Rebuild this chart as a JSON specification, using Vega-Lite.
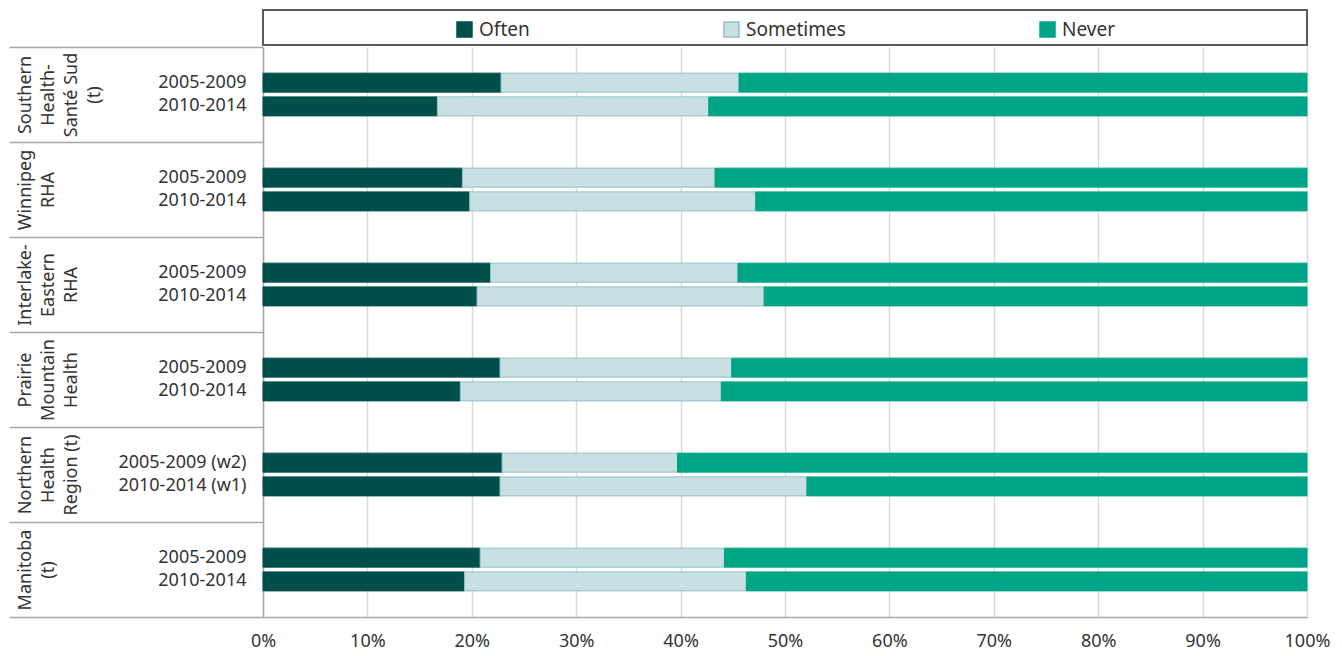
{
  "$schema": "https://vega.github.io/schema/vega-lite/v6.json",
  "padding": {"left": 8, "top": 9, "right": 10, "bottom": 0},
  "background": "white",
  "spacing": 0,
  "config": {
    "font": "Noto Sans",
    "view": {"stroke": null},
    "axis": {"labelColor": "#333333", "labelFont": "Noto Sans"},
    "legend": {
      "orient": "none",
      "legendX": 192,
      "legendY": 10,
      "direction": "horizontal",
      "title": null,
      "symbolType": "square",
      "symbolSize": 225,
      "symbolStrokeWidth": 1.5,
      "labelFontSize": 19,
      "labelOffset": 5,
      "labelColor": "#333333",
      "columnPadding": 191
    }
  },
  "datasets": {
    "regions": [
      {"region": "Southern\nHealth-\nSanté Sud\n(t)"},
      {"region": "Winnipeg\nRHA"},
      {"region": "Interlake-\nEastern\nRHA"},
      {"region": "Prairie\nMountain\nHealth"},
      {"region": "Northern\nHealth\nRegion (t)"},
      {"region": "Manitoba\n(t)"}
    ],
    "bars": [
      {"slot": "S|2005-2009", "response": "Often", "pct": 22.8},
      {"slot": "S|2005-2009", "response": "Sometimes", "pct": 22.8},
      {"slot": "S|2005-2009", "response": "Never", "pct": 54.4},
      {"slot": "S|2010-2014", "response": "Often", "pct": 16.7},
      {"slot": "S|2010-2014", "response": "Sometimes", "pct": 26.0},
      {"slot": "S|2010-2014", "response": "Never", "pct": 57.3},
      {"slot": "W|2005-2009", "response": "Often", "pct": 19.1},
      {"slot": "W|2005-2009", "response": "Sometimes", "pct": 24.2},
      {"slot": "W|2005-2009", "response": "Never", "pct": 56.7},
      {"slot": "W|2010-2014", "response": "Often", "pct": 19.8},
      {"slot": "W|2010-2014", "response": "Sometimes", "pct": 27.4},
      {"slot": "W|2010-2014", "response": "Never", "pct": 52.8},
      {"slot": "I|2005-2009", "response": "Often", "pct": 21.8},
      {"slot": "I|2005-2009", "response": "Sometimes", "pct": 23.7},
      {"slot": "I|2005-2009", "response": "Never", "pct": 54.5},
      {"slot": "I|2010-2014", "response": "Often", "pct": 20.5},
      {"slot": "I|2010-2014", "response": "Sometimes", "pct": 27.5},
      {"slot": "I|2010-2014", "response": "Never", "pct": 52.0},
      {"slot": "P|2005-2009", "response": "Often", "pct": 22.7},
      {"slot": "P|2005-2009", "response": "Sometimes", "pct": 22.2},
      {"slot": "P|2005-2009", "response": "Never", "pct": 55.1},
      {"slot": "P|2010-2014", "response": "Often", "pct": 18.9},
      {"slot": "P|2010-2014", "response": "Sometimes", "pct": 25.0},
      {"slot": "P|2010-2014", "response": "Never", "pct": 56.1},
      {"slot": "N|2005-2009 (w2)", "response": "Often", "pct": 22.9},
      {"slot": "N|2005-2009 (w2)", "response": "Sometimes", "pct": 16.8},
      {"slot": "N|2005-2009 (w2)", "response": "Never", "pct": 60.3},
      {"slot": "N|2010-2014 (w1)", "response": "Often", "pct": 22.7},
      {"slot": "N|2010-2014 (w1)", "response": "Sometimes", "pct": 29.4},
      {"slot": "N|2010-2014 (w1)", "response": "Never", "pct": 47.9},
      {"slot": "M|2005-2009", "response": "Often", "pct": 20.8},
      {"slot": "M|2005-2009", "response": "Sometimes", "pct": 23.4},
      {"slot": "M|2005-2009", "response": "Never", "pct": 55.8},
      {"slot": "M|2010-2014", "response": "Often", "pct": 19.3},
      {"slot": "M|2010-2014", "response": "Sometimes", "pct": 27.0},
      {"slot": "M|2010-2014", "response": "Never", "pct": 53.7}
    ]
  },
  "vconcat": [
    {
      "width": 1044,
      "height": 35,
      "view": {"stroke": "#595959", "strokeWidth": 2},
      "data": {"values": [{}]},
      "mark": {"type": "point", "opacity": 0},
      "encoding": {}
    },
    {
      "width": 1044,
      "height": 570,
      "resolve": {"scale": {"y": "independent"}, "axis": {"y": "independent"}},
      "layer": [
        {
          "data": {"name": "regions"},
          "mark": {"type": "point", "opacity": 0},
          "encoding": {
            "y": {
              "field": "region",
              "type": "nominal",
              "sort": null,
              "scale": {
                "type": "band",
                "domain": ["Southern\nHealth-\nSanté Sud\n(t)", "Winnipeg\nRHA", "Interlake-\nEastern\nRHA", "Prairie\nMountain\nHealth", "Northern\nHealth\nRegion (t)", "Manitoba\n(t)"],
                "paddingInner": 0,
                "paddingOuter": 0
              },
              "axis": {
                "orient": "left",
                "title": null,
                "tickBand": "extent",
                "tickSize": 254,
                "tickColor": "#a6a6a6",
                "tickWidth": 1.5,
                "domainColor": "#a6a6a6",
                "domainWidth": 1.5,
                "labelExpr": "split(datum.label, '\\n')",
                "labelAngle": -90,
                "labelAlign": "center",
                "labelBaseline": "top",
                "labelPadding": -7,
                "labelFontSize": 18,
                "labelLineHeight": 23,
                "labelLimit": 0,
                "labelOverlap": false,
                "labelBound": false
              }
            }
          }
        },
        {
          "data": {"name": "bars"},
          "transform": [
            {"calculate": "indexof(['Often', 'Sometimes', 'Never'], datum.response)", "as": "stackOrder"}
          ],
          "mark": {"type": "bar", "strokeWidth": 1},
          "encoding": {
            "y": {
              "field": "slot",
              "type": "nominal",
              "scale": {
                "domain": ["S|", "S|2005-2009", "S|2010-2014", "S||", "W|", "W|2005-2009", "W|2010-2014", "W||", "I|", "I|2005-2009", "I|2010-2014", "I||", "P|", "P|2005-2009", "P|2010-2014", "P||", "N|", "N|2005-2009 (w2)", "N|2010-2014 (w1)", "N||", "M|", "M|2005-2009", "M|2010-2014", "M||"],
                "paddingInner": 0.2,
                "paddingOuter": 0.1
              },
              "axis": {
                "orient": "left",
                "title": null,
                "ticks": false,
                "tickSize": 0,
                "domain": false,
                "labelExpr": "split(datum.value, '|')[1]",
                "labelPadding": 17,
                "labelFontSize": 18,
                "labelLimit": 0
              }
            },
            "x": {
              "field": "pct",
              "type": "quantitative",
              "stack": "normalize",
              "scale": {"domain": [0, 1]},
              "axis": {
                "title": null,
                "values": [0, 0.1, 0.2, 0.3, 0.4, 0.5, 0.6, 0.7, 0.8, 0.9, 1],
                "format": ".0%",
                "ticks": false,
                "domainColor": "#a6a6a6",
                "domainWidth": 1.5,
                "gridColor": "#d9d9d9",
                "gridWidth": 1.5,
                "labelPadding": 15,
                "labelFontSize": 18,
                "labelFlush": false
              }
            },
            "order": {"field": "stackOrder", "type": "quantitative", "sort": "ascending"},
            "color": {
              "field": "response",
              "type": "nominal",
              "sort": ["Often", "Sometimes", "Never"],
              "scale": {"domain": ["Often", "Sometimes", "Never"], "range": ["#004f4b", "#c8e0e3", "#00a586"]}
            },
            "stroke": {
              "field": "response",
              "type": "nominal",
              "sort": ["Often", "Sometimes", "Never"],
              "scale": {"domain": ["Often", "Sometimes", "Never"], "range": ["#004f4b", "#8fc0c6", "#00a586"]}
            }
          }
        }
      ]
    }
  ]
}
